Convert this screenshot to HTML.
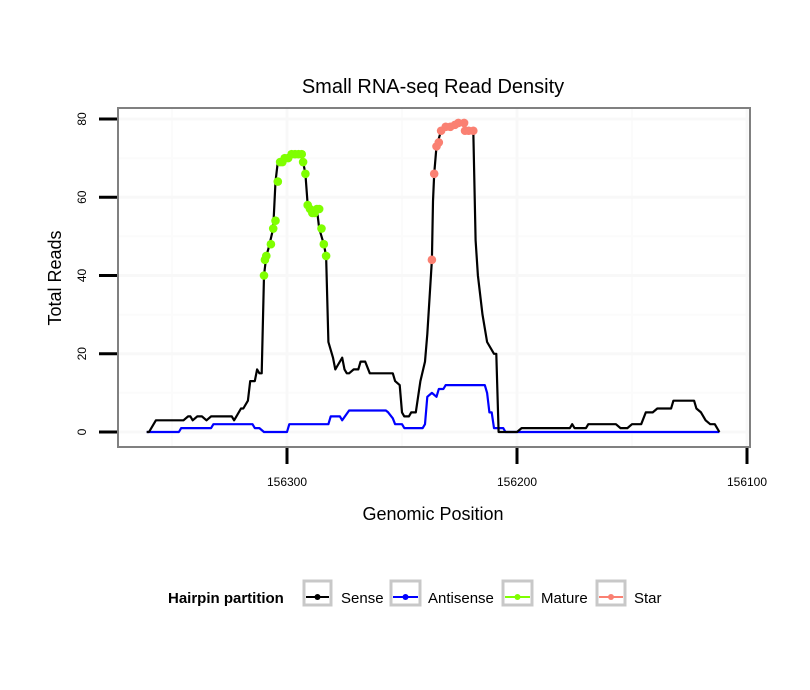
<!DOCTYPE html>
<html><head><meta charset="utf-8"><style>
body{margin:0;background:#fff;}
svg{display:block;font-family:"Liberation Sans",sans-serif;}
</style></head><body>
<svg id="chart" width="810" height="690" xmlns="http://www.w3.org/2000/svg">
<rect width="810" height="690" fill="#fff"/>
<text x="433" y="93" text-anchor="middle" font-size="20">Small RNA-seq Read Density</text>
<rect x="118" y="108" width="632" height="339" fill="#fff"/>
<g id="grid"></g>
<g id="series"></g>
<rect x="118" y="108" width="632" height="339" fill="none" stroke="#808080" stroke-width="2"/>
<g id="axes"></g>
<text x="433" y="520" text-anchor="middle" font-size="18">Genomic Position</text>
<text transform="translate(61,278) rotate(-90)" text-anchor="middle" font-size="18">Total Reads</text>
<g font-size="15">
<text x="168" y="603" font-weight="bold">Hairpin partition</text>
<g><rect x="304" y="581" width="27" height="24" fill="#fff" stroke="#c8c8c8" stroke-width="3"/><line x1="306" y1="597" x2="329" y2="597" stroke="#000" stroke-width="2"/><circle cx="317.5" cy="597" r="3" fill="#000"/><text x="341" y="603">Sense</text></g>
<g><rect x="391" y="581" width="29" height="24" fill="#fff" stroke="#c8c8c8" stroke-width="3"/><line x1="393" y1="597" x2="418" y2="597" stroke="#0000ff" stroke-width="2"/><circle cx="405.5" cy="597" r="3" fill="#0000ff"/><text x="428" y="603">Antisense</text></g>
<g><rect x="503" y="581" width="29" height="24" fill="#fff" stroke="#c8c8c8" stroke-width="3"/><line x1="505" y1="597" x2="530" y2="597" stroke="#7fff00" stroke-width="2"/><circle cx="517.5" cy="597" r="3" fill="#7fff00"/><text x="541" y="603">Mature</text></g>
<g><rect x="597" y="581" width="28" height="24" fill="#fff" stroke="#c8c8c8" stroke-width="3"/><line x1="599" y1="597" x2="623" y2="597" stroke="#fa8072" stroke-width="2"/><circle cx="611" cy="597" r="3" fill="#fa8072"/><text x="634" y="603">Star</text></g>
</g>
</svg>
<script>
const sensePos=[156361,156360,156357,156345,156343,156342,156341,156339,156337,156335,156333,156324,156323,156322,156320,156319,156317,156316,156314,156313,156312,156311,156310,156309,156308,156306,156305,156304,156302,156299,156294,156293,156292,156291,156289,156287,156286,156284,156283,156282,156280,156279,156278,156276,156275,156274,156273,156271,156269,156268,156266,156264,156254,156253,156251,156250,156249,156247,156246,156244,156242,156240,156239,156237,156236.5,156236,156235,156233,156230,156227,156225,156223,156222,156219,156218,156217,156215,156213,156210,156209,156208,156200,156198,156177,156176,156175,156170,156169,156157,156155,156152,156150,156146,156144,156141,156139,156133,156132,156123,156122,156120,156118,156116,156114,156112];
const senseVal=[0,0,3,3,4,4,3,4,4,3,4,4,3,4,6,6,8,13,13,16,15,15,40,45,47,52,64,69,70,71,71,69,66,58,56,57,52,48,45,23,19,16,17,19,16,15,15,16,16,18,18,15,15,13,12,5,4,4,5,5,13,18,25,44,59,66,73,77,78,79,79,79,77,77,49,40,30,23,20,20,0,0,1,1,2,1,1,2,2,1,1,2,2,5,5,6,6,8,8,6,5,3,2,2,0];
const antiPos=[156361,156347,156346,156333,156332,156315,156314,156312,156310,156300,156299,156282,156281,156277,156276,156273,156257,156256,156254,156253,156250,156249,156241,156240,156239,156237,156235,156234,156232,156231,156214,156213,156212,156211,156210,156208,156206,156205,156112];
const antiVal=[0,0,1,1,2,2,1,1,0,0,2,2,4,4,3,5.5,5.5,5,3.5,2,2,1,1,2,9,10,9,11,11,12,12,10,5,5,1,1,1,0,0];
const maturePos=[156310,156309.6,156309,156307,156306,156305,156304,156303,156302,156301,156299.5,156298,156296.5,156295,156293.6,156293,156292,156291,156290,156289,156288,156287,156286,156285,156284,156283];
const matureVal=[40,44,45,48,52,54,64,69,69,70,70,71,71,71,71,69,66,58,57,56,56,57,57,52,48,45];
const starPos=[156237,156236,156235,156234,156233,156231,156229,156227,156225.5,156223,156222.6,156221,156219];
const starVal=[44,66,73,74,77,78,78,78.5,79,79,77,77,77];
const yTicks=[0,20,40,60,80];
const yMinor=[10,30,50,70];
const xTicks=[156300,156200,156100];
const xMinor=[156350,156250,156150];
const NS='http://www.w3.org/2000/svg';
const sx=p=>287+(156300-p)*2.3;
const sy=v=>432-v*3.9125;
function mk(tag,attrs,parent){const e=document.createElementNS(NS,tag);for(const k in attrs)e.setAttribute(k,attrs[k]);parent.appendChild(e);return e;}
const grid=document.getElementById('grid'),axes=document.getElementById('axes'),series=document.getElementById('series');
yMinor.forEach(v=>{const l=mk('line',{x1:119,x2:749,y1:sy(v),y2:sy(v),stroke:'#fbfbfb','stroke-width':2},grid);

});
xMinor.forEach(p=>{const l=mk('line',{x1:sx(p),x2:sx(p),y1:109,y2:446,stroke:'#fbfbfb','stroke-width':2},grid);

});
yTicks.forEach(v=>{const l=mk('line',{x1:119,x2:749,y1:sy(v),y2:sy(v),stroke:'#f8f8f8','stroke-width':3},grid);


const t=mk('line',{x1:99,x2:117,y1:sy(v),y2:sy(v),stroke:'#000','stroke-width':3},axes);


const tx=mk('text',{transform:`translate(86,${sy(v)}) rotate(-90)`,'text-anchor':'middle','font-size':12},axes);
tx.textContent=v;

});
xTicks.forEach(p=>{const l=mk('line',{x1:sx(p),x2:sx(p),y1:109,y2:446,stroke:'#f8f8f8','stroke-width':3},grid);


const t=mk('line',{x1:sx(p),x2:sx(p),y1:448,y2:464,stroke:'#000','stroke-width':3},axes);


const tx=mk('text',{x:sx(p),y:486,'text-anchor':'middle','font-size':12},axes);
tx.textContent=p;

});
function line(pos,val,color,name){const d=pos.map((p,i)=>(i?'L':'M')+sx(p).toFixed(1)+','+sy(val[i]).toFixed(1)).join('');
const e=mk('path',{d:d,fill:'none',stroke:color,'stroke-width':2.2,'stroke-linejoin':'round'},series);

}
line(antiPos,antiVal,'#0000ff','antisense-line');
line(sensePos,senseVal,'#000','sense-line');
function pts(pos,val,color,name){pos.forEach((p,i)=>{const c=mk('circle',{cx:sx(p),cy:sy(val[i]),r:4.3,fill:color},series);

});}
pts(maturePos,matureVal,'#7fff00','mature-point');
pts(starPos,starVal,'#fa8072','star-point');
</script>
</body></html>
